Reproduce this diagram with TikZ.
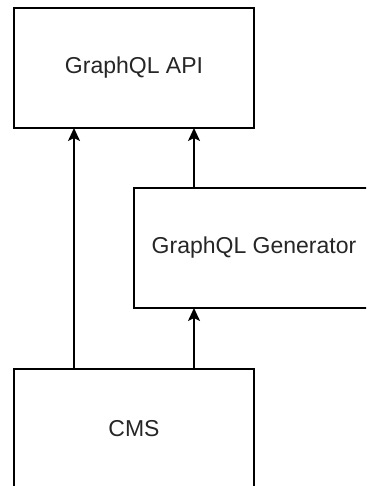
\documentclass[tikz,border=0pt]{standalone}
\usepackage{fontspec}
\setmainfont{Liberation Sans}
\usetikzlibrary{arrows.meta,calc}
\begin{document}
\begin{tikzpicture}[x=1pt,y=-1pt,
  block/.style={draw=black, line width=1.8pt, fill=white, inner sep=0pt, outer sep=0pt,
    minimum width=240pt, minimum height=120pt, font=\fontsize{23}{28}\selectfont, text=black!85},
  arr/.style={line width=1.8pt, -{Stealth[length=13pt,width=12pt,inset=3pt]}}]
  \useasboundingbox (0,0) rectangle (366,486);
  \clip (0,0) rectangle (366,486);
  % boxes
  \node[block] (api) at (134,68) {GraphQL API};
  \node[block] (gen) at (254,248) {GraphQL Generator};
  \node[block] (cms) at (134,429) {CMS};
  % connectors
  \draw[arr] ($(cms.north west)!0.25!(cms.north east)$) -- ($(api.south west)!0.25!(api.south east)$);
  \draw[arr] ($(cms.north west)!0.75!(cms.north east)$) -- ($(gen.south west)!0.25!(gen.south east)$);
  \draw[arr] ($(gen.north west)!0.25!(gen.north east)$) -- ($(api.south west)!0.75!(api.south east)$);
\end{tikzpicture}
\end{document}
